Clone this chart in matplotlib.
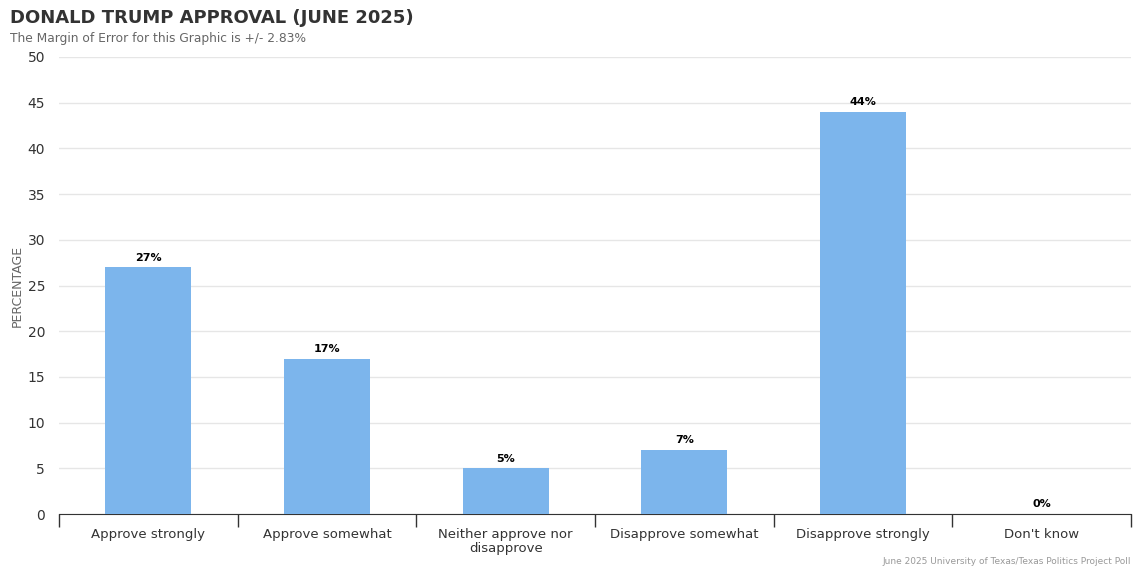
import matplotlib
matplotlib.use("Agg")
import matplotlib.pyplot as plt

plt.rcParams["font.family"] = ["DejaVu Sans"]

# Datos del gráfico
categorias = ["Approve strongly", "Approve somewhat", "Neither approve nor\ndisapprove",
              "Disapprove somewhat", "Disapprove strongly", "Don't know"]
valores = [27, 17, 5, 7, 44, 0]
etiquetas = ["27%", "17%", "5%", "7%", "44%", "0%"]
ticks_y = [0, 5, 10, 15, 20, 25, 30, 35, 40, 45, 50]

fig = plt.figure(figsize=(11.4, 5.7), dpi=100)
ax = fig.add_axes([0.0518, 0.0982, 0.9402, 0.8018])

x = list(range(len(categorias)))
ax.bar(x, valores, width=0.48, color="#7cb5ec", zorder=3)

for xi, v, t in zip(x, valores, etiquetas):
    ax.text(xi, v + 0.5, t, ha="center", va="bottom", fontsize=8, fontweight="bold", color="#000000")

ax.set_xlim(-0.5, len(categorias) - 0.5)
ax.set_ylim(0, 50)
ax.set_yticks(ticks_y)
ax.tick_params(axis="y", length=0, labelsize=10, colors="#333333", pad=10)
ax.grid(axis="y", color="#e6e6e6", linewidth=1, zorder=0)

# Etiquetas del eje x sin marcas, marcas en los bordes de categoría
ax.set_xticks(x)
ax.set_xticklabels(categorias, fontsize=9.5, color="#333333", linespacing=1.15)
ax.tick_params(axis="x", length=0, pad=10)
ax.set_xticks([i - 0.5 for i in range(len(categorias) + 1)], minor=True)
ax.tick_params(axis="x", which="minor", length=9, color="#333333", width=1)

for lado in ["top", "right", "left"]:
    ax.spines[lado].set_visible(False)
ax.spines["bottom"].set_color("#333333")

ax.set_ylabel("PERCENTAGE", fontsize=9, color="#666666")
ax.yaxis.set_label_coords(-0.0327, 0.5)

fig.text(0.009, 0.968, "DONALD TRUMP APPROVAL (JUNE 2025)", fontsize=13, fontweight="bold",
         color="#333333", va="center", ha="left")
fig.text(0.009, 0.933, "The Margin of Error for this Graphic is +/- 2.83%", fontsize=8.8,
         color="#666666", va="center", ha="left")
fig.text(0.992, 0.015, "June 2025 University of Texas/Texas Politics Project Poll", fontsize=6.5,
         color="#999999", va="center", ha="right")

fig.savefig("out.png", dpi=100)
